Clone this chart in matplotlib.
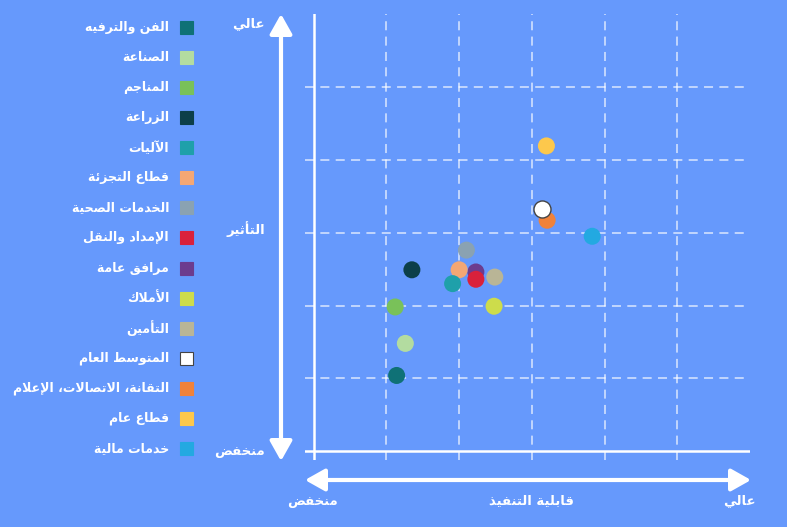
import matplotlib
matplotlib.use("Agg")
import matplotlib.pyplot as plt
from matplotlib.patches import Rectangle

# ---------------- data ----------------
sectors = ["الفن والترفيه", "الصناعة", "المناجم", "الزراعة", "الآليات",
           "قطاع التجزئة", "الخدمات الصحية", "الإمداد والنقل", "مرافق عامة",
           "الأملاك", "التأمين", "المتوسط العام", "التقانة، الاتصالات، الإعلام",
           "قطاع عام", "خدمات مالية"]
feasibility = [1.14, 1.26, 1.12, 1.35, 1.91, 2.00, 2.10, 2.23, 2.23,
               2.48, 2.49, 3.14, 3.21, 3.20, 3.83]
impact = [1.04, 1.48, 1.98, 2.49, 2.30, 2.49, 2.76, 2.36, 2.46,
          1.99, 2.39, 3.32, 3.17, 4.19, 2.95]
colors = ["#0f7176", "#b3dca0", "#79c159", "#0c3f49", "#1fa0aa",
          "#f4a774", "#8aa2b2", "#d9213b", "#6c3c8e", "#cddc4b",
          "#b9b596", "#ffffff", "#f0823a", "#fdc84c", "#23a9e1"]

x_label = "قابلية التنفيذ"
y_label = "التأثير"
low_label = "منخفض"
high_label = "عالي"

# ---------------- Arabic shaping (presentation forms + visual order) ----------------
DUAL = {'ئ': 0xFE89, 'ب': 0xFE8F, 'ت': 0xFE95, 'ث': 0xFE99, 'ج': 0xFE9D,
        'ح': 0xFEA1, 'خ': 0xFEA5, 'س': 0xFEB1, 'ش': 0xFEB5, 'ص': 0xFEB9,
        'ض': 0xFEBD, 'ط': 0xFEC1, 'ظ': 0xFEC5, 'ع': 0xFEC9, 'غ': 0xFECD,
        'ف': 0xFED1, 'ق': 0xFED5, 'ك': 0xFED9, 'ل': 0xFEDD, 'م': 0xFEE1,
        'ن': 0xFEE5, 'ه': 0xFEE9, 'ي': 0xFEF1}
RIGHT = {'آ': 0xFE81, 'أ': 0xFE83, 'ؤ': 0xFE85, 'إ': 0xFE87, 'ا': 0xFE8D,
         'ة': 0xFE93, 'د': 0xFEA9, 'ذ': 0xFEAB, 'ر': 0xFEAD, 'ز': 0xFEAF,
         'و': 0xFEED, 'ى': 0xFEEF}
LAMALEF = {'آ': 0xFEF5, 'أ': 0xFEF7, 'إ': 0xFEF9, 'ا': 0xFEFB}


def shape(s):
    out = []
    prev = False
    i = 0
    n = len(s)
    while i < n:
        c = s[i]
        nxt = s[i + 1] if i + 1 < n else ''
        if c == 'ل' and nxt in LAMALEF:
            out.append(chr(LAMALEF[nxt] + (1 if prev else 0)))
            prev = False
            i += 2
            continue
        if c in DUAL:
            nj = (nxt in DUAL) or (nxt in RIGHT)
            if prev and nj:
                f = 3
            elif prev:
                f = 1
            elif nj:
                f = 2
            else:
                f = 0
            out.append(chr(DUAL[c] + f))
            prev = True
        elif c in RIGHT:
            out.append(chr(RIGHT[c] + (1 if prev else 0)))
            prev = False
        else:
            out.append(c)
            prev = False
        i += 1
    return ''.join(reversed(out))


# ---------------- figure ----------------
W, H = 787, 527
BG = "#6699fc"
plt.rcParams['font.family'] = ['DejaVu Sans']
fig = plt.figure(figsize=(W / 100, H / 100), dpi=100, facecolor=BG)

def fx(x):
    return x / W

def fy(y):
    return 1 - y / H

ax = fig.add_axes([fx(305), fy(460), fx(750) - fx(305), fy(14) - fy(460)])
ax.set_facecolor(BG)
ax.set_xlim(-0.12, 6)
ax.set_ylim(-0.12, 6)
for sp in ax.spines.values():
    sp.set_visible(False)
ax.set_xticks([])
ax.set_yticks([])

grid_kw = dict(color="white", alpha=0.65, lw=1.3, ls=(0, (5, 3.5)), zorder=1)
for v in range(1, 6):
    ax.axvline(v, **grid_kw)
    ax.axhline(v, **grid_kw)
ax.axvline(0, color="white", lw=1.8, zorder=2)
ax.axhline(0, color="white", lw=1.8, zorder=2)

for i in reversed(range(len(sectors))):
    edge = "#444444" if colors[i] == "#ffffff" else "none"
    ax.scatter(feasibility[i], impact[i], s=150, c=colors[i],
               edgecolors=edge, linewidths=1.0, zorder=3)

# arrows
arrow_kw = dict(arrowstyle="<|-|>,head_length=0.8,head_width=0.45",
                color="white", lw=3, shrinkA=0, shrinkB=0, mutation_scale=15)
ax.annotate("", xy=(281, H - 14), xytext=(281, H - 461),
            xycoords="figure pixels", textcoords="figure pixels",
            arrowprops=arrow_kw, annotation_clip=False)
ax.annotate("", xy=(305, H - 480), xytext=(751, H - 480),
            xycoords="figure pixels", textcoords="figure pixels",
            arrowprops=arrow_kw, annotation_clip=False)

txt_kw = dict(color="white", fontsize=9.5, fontweight="bold")
fig.text(fx(265), fy(24), shape(high_label), ha="right", va="center", **txt_kw)
fig.text(fx(265), fy(229), shape(y_label), ha="right", va="center", **txt_kw)
fig.text(fx(265), fy(451), shape(low_label), ha="right", va="center", **txt_kw)
fig.text(fx(313), fy(501), shape(low_label), ha="center", va="center", **txt_kw)
fig.text(fx(531), fy(501), shape(x_label), ha="center", va="center", **txt_kw)
fig.text(fx(739), fy(501), shape(high_label), ha="center", va="center", **txt_kw)

# legend (right-to-left: swatch on the right)
for i, (name, col) in enumerate(zip(sectors, colors)):
    yc = 27.5 + i * 30.07
    fig.text(fx(169), fy(yc), shape(name), ha="right", va="center",
             color="white", fontsize=9.0, fontweight="bold")
    edge = "#444444" if col == "#ffffff" else col
    fig.patches.append(Rectangle((fx(180), fy(yc + 6.5)), fx(13), 13 / H,
                                 transform=fig.transFigure, facecolor=col,
                                 edgecolor=edge, lw=0.8))

fig.savefig("out.png", dpi=100, facecolor=BG)
